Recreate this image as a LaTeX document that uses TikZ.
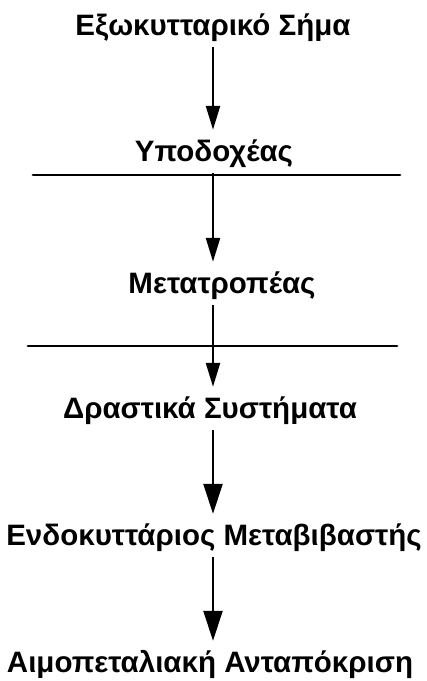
\documentclass[tikz,border=0pt]{standalone}
\usepackage{fontspec}
\setmainfont{Liberation Sans}
\usepackage{tikz}
\usetikzlibrary{arrows.meta, positioning, calc}

\begin{document}
\begin{tikzpicture}[
    x=1pt, y=-1pt,
    stage/.style={anchor=base, inner sep=0pt, text height=22pt, text depth=6pt, font=\fontsize{29.5}{34}\selectfont\bfseries},
    flow/.style={line width=2.4pt, -{Triangle[length=24pt, width=14pt]}, shorten <=6pt, shorten >=9pt},
    bigflow/.style={flow, -{Triangle[length=30pt, width=19pt]}},
    membrane/.style={line width=2.8pt, line cap=round},
]
    \useasboundingbox (0,0) rectangle (427,681);

    \node[stage] (signal)     at (213, 35)  {Εξωκυτταρικό Σήμα};
    \node[stage] (receptor)   at (214, 161) {Υποδοχέας};
    \node[stage] (transducer) at (222, 293) {Μετατροπέας};
    \node[stage] (effector)   at (210, 418) {Δραστικά Συστήματα};
    \node[stage] (messenger)  at (214, 545) {Ενδοκυττάριος Μεταβιβαστής};
    \node[stage] (response)   at (210, 672) {Αιμοπεταλιακή Ανταπόκριση};

    % membranes
    \draw[membrane] (33, 175) -- (400, 175);
    \draw[membrane] (28, 346) -- (397, 346);

    \draw[flow] (signal.south) -- (signal.south |- receptor.north);
    \draw[flow] (signal.south |- receptor.south) -- (signal.south |- transducer.north);
    \draw[flow] (signal.south |- transducer.south) -- (signal.south |- effector.north);
    \draw[bigflow] (signal.south |- effector.south) -- (signal.south |- messenger.north);
    \draw[bigflow] (signal.south |- messenger.south) -- (signal.south |- response.north);
\end{tikzpicture}
\end{document}
